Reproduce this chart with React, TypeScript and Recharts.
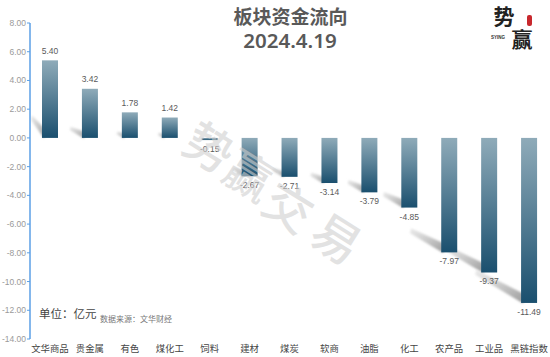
import React from "react";
import { BarChart, Bar, XAxis, YAxis } from "recharts";

const categories = ["文华商品", "贵金属", "有色", "煤化工", "饲料", "建材", "煤炭", "软商", "油脂", "化工", "农产品", "工业品", "黑链指数"];
const values = [5.4, 3.42, 1.78, 1.42, -0.15, -2.67, -2.71, -3.14, -3.79, -4.85, -7.97, -9.37, -11.49];
const yTicks = [8, 6, 4, 2, 0, -2, -4, -6, -8, -10, -12, -14];
const data = categories.map((name, i) => ({ name, value: values[i] }));

const numFont = "'Liberation Sans', sans-serif";
const cjkFont = "'Noto Sans CJK SC', sans-serif";
const axisBlue = "#5b9fe6";
const PLOT_LEFT = 30;

const ShadowShape = (props: any) => {
  const { x, y, height, value } = props;
  const top = Math.min(y, y + height);
  const bot = Math.max(y, y + height);
  const h = bot - top;
  if (h < 5) return null;
  const dx = Math.max(4, h * 0.29);
  const x0 = x + 2;
  const x1 = Math.max(PLOT_LEFT + 1, x0 - dx);
  const y1 = bot - (x0 - x1) * (value >= 0 && x < 60 ? 1.5 : 0.62);
  const t = Math.min(5, 1.5 + h * 0.04);
  const d = `M${x0},${bot + 0.5} L${x0 + 2},${bot - t * 1.7} L${x1 + 1},${y1 - t * 0.7} L${x1},${y1 + t * 0.3} Z`;
  return <path d={d} fill="url(#shadowFill)" filter="url(#soft)" />;
};

const BarShape = (props: any) => {
  const { x, y, width, height, value } = props;
  const top = Math.min(y, y + height);
  const h = Math.abs(height);
  const bot = top + h;
  const labelY = value >= 0 ? top - 9.5 : bot + 9;
  return (
    <g>
      <rect x={x} y={top} width={width} height={h} fill="url(#barFill)" />
      <text
        x={x + width / 2}
        y={labelY}
        textAnchor="middle"
        dominantBaseline="central"
        fontFamily={numFont}
        fontSize={8.5}
        fill="#5a5a5a"
      >
        {value.toFixed(2)}
      </text>
    </g>
  );
};

const watermark = [
  { ch: "势", x: 211, y: 145, a: 32 },
  { ch: "赢", x: 251, y: 173, a: 32 },
  { ch: "交", x: 290, y: 205, a: 32 },
  { ch: "易", x: 338, y: 236, a: 32 },
];

export default function App() {
  return (
    <div style={{ position: "absolute", left: 0, top: 0, width: 550, height: 357, background: "#fff", overflow: "hidden" }}>
      <BarChart
        width={550}
        height={357}
        data={data}
        margin={{ top: 23, right: 1, bottom: 0, left: 0 }}
        barSize={16}
        barGap={-16}
      >
        <defs>
          <linearGradient id="barFill" x1="0" y1="0" x2="0" y2="1">
            <stop offset="0" stopColor="#8fabb9" />
            <stop offset="1" stopColor="#1a4f6e" />
          </linearGradient>
          <linearGradient id="shadowFill" x1="1" y1="1" x2="0" y2="0">
            <stop offset="0" stopColor="#999" />
            <stop offset="1" stopColor="#ddd" stopOpacity="0.6" />
          </linearGradient>
          <filter id="soft" x="-40%" y="-40%" width="180%" height="180%">
            <feGaussianBlur stdDeviation="1.3" />
          </filter>
        </defs>
        <XAxis
          dataKey="name"
          height={18}
          interval={0}
          axisLine={false}
          tickLine={false}
          tickMargin={0}
          tick={{ fontSize: 9.4, fontFamily: cjkFont, fill: "#444" }}
        />
        <YAxis
          width={30}
          domain={[-14, 8]}
          ticks={yTicks}
          interval={0}
          axisLine={{ stroke: axisBlue, strokeWidth: 1.5 }}
          tickLine={{ stroke: axisBlue, strokeWidth: 1 }}
          tickSize={3}
          tickMargin={1}
          tickFormatter={(v: number) => v.toFixed(2)}
          tick={{ fontSize: 8.5, fontFamily: numFont, fill: "#9a9a9a" }}
        />
        <Bar dataKey="value" isAnimationActive={false} shape={<ShadowShape />} />
        <Bar dataKey="value" isAnimationActive={false} shape={<BarShape />} />
      </BarChart>
      <svg width={550} height={357} style={{ position: "absolute", left: 0, top: 0, pointerEvents: "none" }}>
        {watermark.map((w) => (
          <text
            key={w.ch}
            x={w.x}
            y={w.y}
            textAnchor="middle"
            dominantBaseline="central"
            fontFamily={cjkFont}
            fontSize={48}
            fontWeight={500}
            fill="#cfcfcf"
            fillOpacity={0.6}
            transform={`rotate(${w.a} ${w.x} ${w.y})`}
          >
            {w.ch}
          </text>
        ))}
        <text x={290.5} y={15} textAnchor="middle" dominantBaseline="central" fontFamily={cjkFont} fontSize={19} fontWeight={700} fill="#595959">
          板块资金流向
        </text>
        <text x={290} y={40} textAnchor="middle" dominantBaseline="central" fontFamily="'Noto Sans', sans-serif" fontSize={20.5} fontWeight={600} fill="#595959">
          2024.4.19
        </text>
        <text x={39} y={313} dominantBaseline="central" fontFamily={cjkFont} fontSize={11.5} fill="#444">
          单位：亿元
        </text>
        <text x={100} y={318} dominantBaseline="central" fontFamily={cjkFont} fontSize={8} fill="#777">
          数据来源：文华财经
        </text>
        <text x={504} y={15} textAnchor="middle" dominantBaseline="central" fontFamily={cjkFont} fontSize={21} fontWeight={700} fill="#222">
          势
        </text>
        <text x={522} y={37.5} textAnchor="middle" dominantBaseline="central" fontFamily={cjkFont} fontSize={21} fontWeight={700} fill="#222">
          赢
        </text>
        <text x={498} y={37} textAnchor="middle" dominantBaseline="central" fontFamily="'Liberation Sans', sans-serif" fontSize={4.5} fontWeight={700} fill="#333">
          SYING
        </text>
        <rect x={527} y={15} width={5} height={11} rx={2} fill="#c8282d" />
      </svg>
    </div>
  );
}
